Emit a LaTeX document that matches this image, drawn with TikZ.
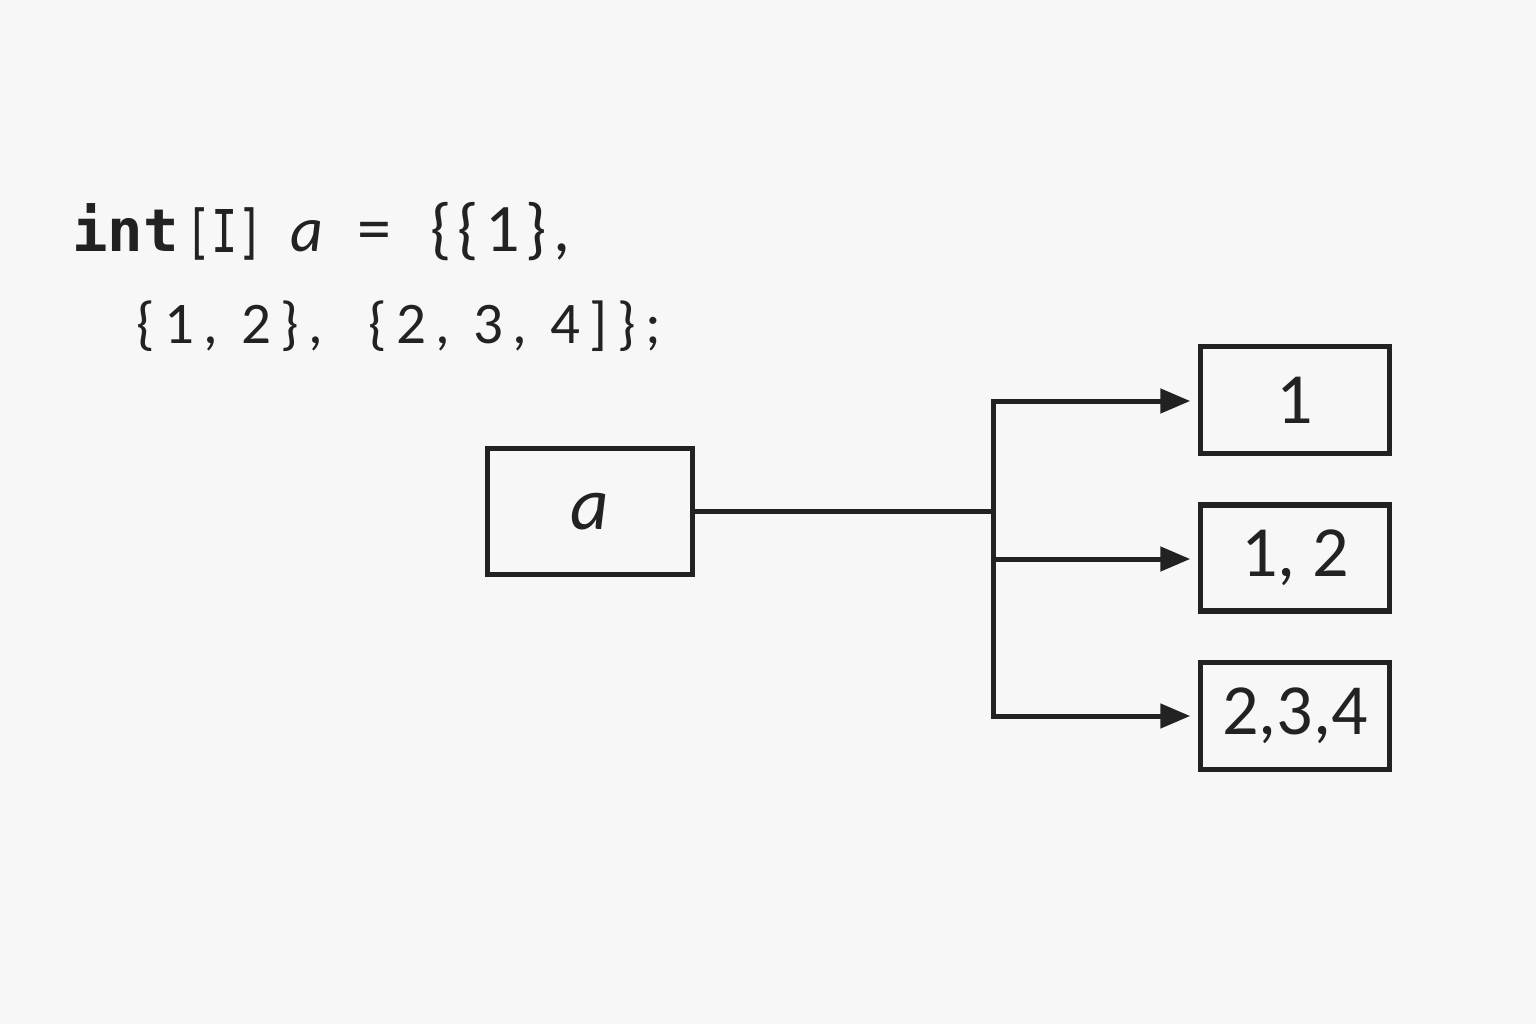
\documentclass[tikz,border=0pt]{standalone}
\usepackage{fontspec}
\usetikzlibrary{arrows.meta}
\newfontfamily\codefont{DejaVu Sans Mono}
\newfontfamily\labfont{Carlito}
\newfontfamily\spacedA[LetterSpace=9]{Carlito}
\newfontfamily\spacedB[LetterSpace=16]{Carlito}
\definecolor{ink}{HTML}{222222}
\definecolor{bg}{HTML}{F7F7F7}
\begin{document}
\begin{tikzpicture}[x=1pt,y=-1pt,
  box/.style={draw=ink, line width=5.5pt, inner sep=0pt, text=ink,
    font=\labfont\fontsize{72}{80}\selectfont},
  conn/.style={draw=ink, line width=5pt},
  arr/.style={conn, -{Triangle[length=30pt,width=24pt]}, shorten >=7.5pt},
  code/.style={anchor=base west, inner sep=0pt, text=ink}]
\fill[bg] (0,0) rectangle (1536,1024);
\useasboundingbox (0,0) rectangle (1536,1024);

% code text
\node[code, font=\codefont\bfseries\fontsize{59}{59}\selectfont] (kw) at (72,252) {int};
\node[code, font=\codefont\fontsize{59}{59}\selectfont] (br) at (185,253) {\scalebox{0.74}[1]{[I]}};
\node[code, font=\labfont\itshape\fontsize{64}{64}\selectfont] (var) at (290,252) {a};
\node[code, font=\labfont\fontsize{68}{68}\selectfont] (eq) at (357,252) {=};
\node[code, font=\spacedA\fontsize{68}{68}\selectfont] (l1) at (430,252) {\{\{1\},};
\node[code, font=\spacedB\fontsize{59}{59}\selectfont] (l2) at (136,343) {\{1, 2\}, \ \{2, 3, 4]\};};

% boxes
\node[box, minimum width=205pt, minimum height=126pt,
  font=\labfont\itshape\fontsize{75}{80}\selectfont] (a) at (590,511.5) {\raisebox{-6pt}{a}};
\node[box, minimum width=189pt, minimum height=107pt] (b1) at (1295,400) {1};
\node[box, minimum width=189pt, minimum height=106pt] (b2) at (1295,558) {1, 2};
\node[box, minimum width=189pt, minimum height=107pt] (b3) at (1295,716) {2,3,4};

% connectors
\coordinate (j) at (993,511);
\coordinate (t1) at (993,401);
\coordinate (t2) at (993,559);
\coordinate (t3) at (993,716);
\draw[conn] (a.east |- j) -- (j);
\draw[conn, line cap=rect] (t1) -- (t3);
\draw[arr] (t1) -- (b1.west |- t1);
\draw[arr] (t2) -- (b2.west |- t2);
\draw[arr] (t3) -- (b3.west |- t3);
\end{tikzpicture}
\end{document}
